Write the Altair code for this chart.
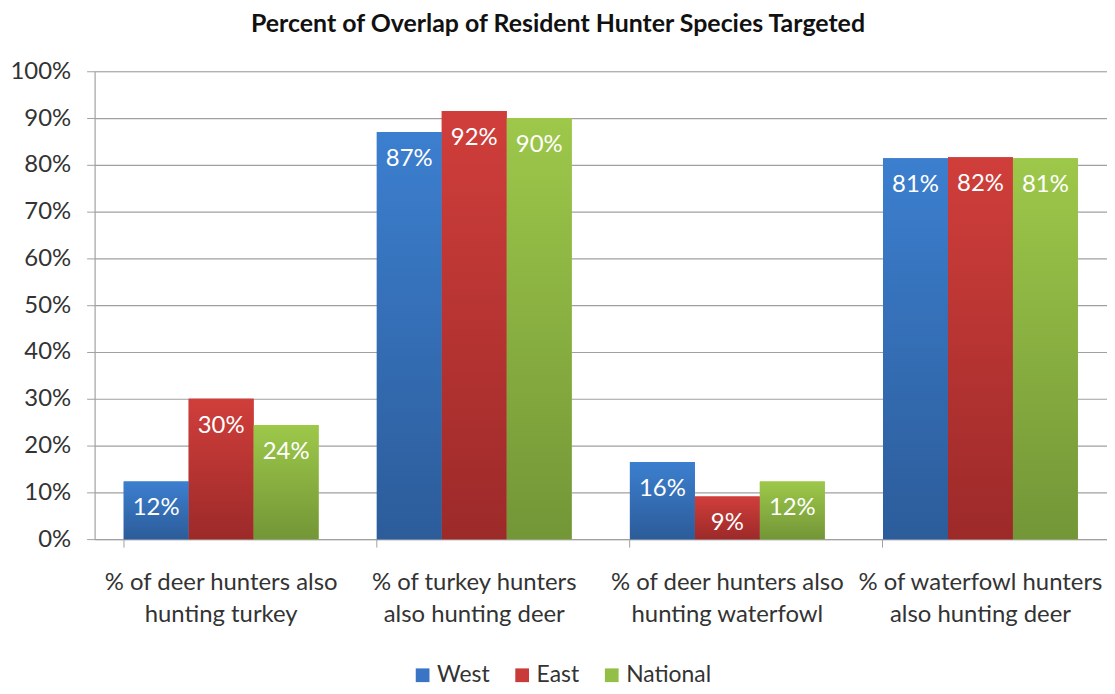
import altair as alt
import pandas as pd

TITLE = "Percent of Overlap of Resident Hunter Species Targeted"
CATEGORIES = [
    "% of deer hunters also hunting turkey",
    "% of turkey hunters also hunting deer",
    "% of deer hunters also hunting waterfowl",
    "% of waterfowl hunters also hunting deer",
]
LABEL_LINES = [
    ["% of deer hunters also", "hunting turkey"],
    ["% of turkey hunters", "also hunting deer"],
    ["% of deer hunters also", "hunting waterfowl"],
    ["% of waterfowl hunters", "also hunting deer"],
]
SERIES = ["West", "East", "National"]
WEST = [12.3, 87.0, 16.5, 81.4]
EAST = [30.0, 91.5, 9.1, 81.6]
NATIONAL = [24.4, 90.0, 12.3, 81.4]
WEST_LABELS = ["12%", "87%", "16%", "81%"]
EAST_LABELS = ["30%", "92%", "9%", "82%"]
NATIONAL_LABELS = ["24%", "90%", "12%", "81%"]
Y_TICKS = [0, 10, 20, 30, 40, 50, 60, 70, 80, 90, 100]

FLAT = {"West": "#3A74C4", "East": "#C93B39", "National": "#94BF46"}
GRAD = {
    "West": ("#3C7FCF", "#2C5C9A"),
    "East": ("#D03E3B", "#9C2A29"),
    "National": ("#9DC84A", "#739637"),
}

rows = []
for s, vals, labs in [("West", WEST, WEST_LABELS), ("East", EAST, EAST_LABELS),
                      ("National", NATIONAL, NATIONAL_LABELS)]:
    for c, v, l in zip(CATEGORIES, vals, labs):
        rows.append({"category": c, "series": s, "value": v, "label": l})
df = pd.DataFrame(rows)

FONT = "Lato"
FS = 24
label_map = "{" + ",".join(
    "'" + c + "': ['" + a + "','" + b + "']" for c, (a, b) in zip(CATEGORIES, LABEL_LINES)
) + "}"

x_enc = alt.X(
    "category:N", sort=CATEGORIES, title=None,
    scale=alt.Scale(paddingInner=0.23, paddingOuter=0.115),
    axis=alt.Axis(
        labelExpr=label_map + "[datum.label]", labelAngle=0, labelFontSize=FS,
        labelFont=FONT, labelColor="#333333", labelLineHeight=32, labelPadding=24,
        tickSize=8, tickColor="#A0A0A0", domainColor="#A0A0A0", bandPosition=0,
        labelBaseline="top", labelLimit=0,
    ),
)
xo_enc = alt.XOffset("series:N", sort=SERIES,
                     scale=alt.Scale(domain=SERIES, paddingInner=0, paddingOuter=0))
y_enc = alt.Y(
    "value:Q", title=None,
    scale=alt.Scale(domain=[0, 100], nice=False),
    axis=alt.Axis(
        values=Y_TICKS, labelExpr="datum.value + '%'", labelFontSize=FS, labelFont=FONT,
        labelColor="#333333", tickSize=8, tickColor="#A0A0A0", domainColor="#A0A0A0",
        gridColor="#A0A0A0", gridWidth=1.2, labelPadding=16,
    ),
)

base = alt.Chart(df)

legend_layer = base.mark_bar().encode(
    x=x_enc, xOffset=xo_enc, y=y_enc,
    color=alt.Color(
        "series:N", sort=SERIES,
        scale=alt.Scale(domain=SERIES, range=[FLAT[s] for s in SERIES]),
        legend=alt.Legend(
            title=None, orient="none", direction="horizontal", legendX=318, legendY=595,
            symbolType="square", symbolSize=190, symbolStrokeWidth=0, labelFontSize=23,
            labelFont=FONT, labelColor="#333333", columnPadding=21, symbolOffset=0,
            labelOffset=3, labelLimit=0,
        ),
    ),
)

layers = [legend_layer]
for s in SERIES:
    top, bot = GRAD[s]
    grad = alt.LinearGradient(
        gradient="linear",
        stops=[alt.GradientStop(offset=0, color=top), alt.GradientStop(offset=1, color=bot)],
        x1=0, x2=0, y1=0, y2=1,
    )
    layers.append(
        base.transform_filter(alt.datum.series == s)
        .mark_bar(color=grad)
        .encode(x=x_enc, xOffset=xo_enc, y=y_enc)
    )

text_layer = base.mark_text(
    color="white", fontSize=FS, font=FONT, dy=27, baseline="middle"
).encode(x=x_enc, xOffset=xo_enc, y=y_enc, text="label:N")
layers.append(text_layer)

chart = alt.layer(*layers).properties(
    width=1017, height=470,
    autosize=alt.AutoSizeParams(type="none"),
    padding={"left": 87, "top": 62, "right": 0, "bottom": 146},
    title=alt.TitleParams(
        TITLE, font=FONT, fontSize=25, fontWeight="bold", color="#111111",
        anchor="middle", dx=-43, offset=22,
    ),
).configure_view(fill="#EEEBE0", stroke=None).configure(background="white")

chart.save("out.html", embed_options={"renderer": "svg", "actions": False})
